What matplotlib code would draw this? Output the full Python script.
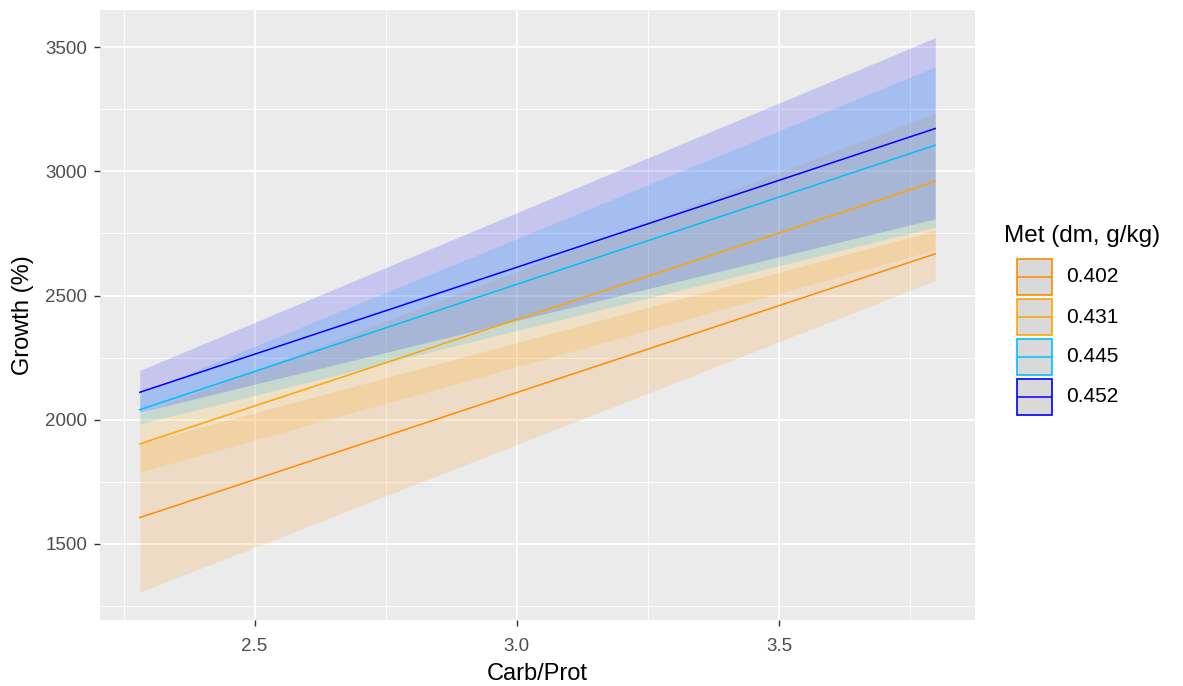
import numpy as np
import matplotlib.pyplot as plt
from matplotlib.patches import Rectangle
from matplotlib.lines import Line2D

plt.rcParams['font.family'] = ['Liberation Sans', 'DejaVu Sans']

# Carb/Prot range covered by the predictions
cp = [2.281, 3.798]

met_levels = ['0.402', '0.431', '0.445', '0.452']
line_colors = ['#FF8C00', '#FFA500', '#00BFFF', '#0000FF']

# predicted growth and confidence limits at each end of the range
fit = {
    '0.402': [1605, 2668],
    '0.431': [1902, 2960],
    '0.445': [2040, 3106],
    '0.452': [2110, 3173],
}
lower = {
    '0.402': [1304, 2560],
    '0.431': [1788, 2685],
    '0.445': [1983, 2776],
    '0.452': [2030, 2809],
}
upper = {
    '0.402': [1903, 2762],
    '0.431': [2022, 3235],
    '0.445': [2105, 3422],
    '0.452': [2198, 3539],
}

fig = plt.figure(figsize=(11.83, 6.86), dpi=100)
ax = fig.add_axes([100 / 1183, 1 - 620 / 686, 875 / 1183, 610 / 686])
ax.set_facecolor('#EBEBEB')

for lev, col in zip(met_levels, line_colors):
    ax.fill_between(cp, lower[lev], upper[lev], color=col, alpha=0.16,
                    linewidth=0, zorder=2)
for lev, col in zip(met_levels, line_colors):
    ax.plot(cp, fit[lev], color=col, lw=1.1, zorder=3)

# ggplot-like expansion of the data range
span = cp[1] - cp[0]
ax.set_xlim(cp[0] - 0.05 * span, cp[1] + 0.05 * span)
ymin = min(min(v) for v in lower.values())
ymax = max(max(v) for v in upper.values())
ax.set_ylim(ymin - 0.05 * (ymax - ymin), ymax + 0.05 * (ymax - ymin))

ax.set_xticks([2.5, 3.0, 3.5])
ax.set_xticklabels(['2.5', '3.0', '3.5'])
ax.set_yticks([1500, 2000, 2500, 3000, 3500])
ax.set_xticks([2.25, 2.75, 3.25, 3.75], minor=True)
ax.set_yticks([1250, 1750, 2250, 2750, 3250], minor=True)
ax.grid(which='major', color='white', lw=1.3, zorder=1)
ax.grid(which='minor', color='white', lw=0.6, zorder=1)
ax.set_axisbelow(True)
for s in ax.spines.values():
    s.set_visible(False)
ax.tick_params(which='major', length=4, width=1, color='#333333',
               labelcolor='#4D4D4D', labelsize=13.5, pad=5)
ax.tick_params(axis='x', which='major', pad=9)
ax.tick_params(which='minor', length=0)

ax.set_xlabel('Carb/Prot', fontsize=17, color='black', labelpad=6)
ax.set_ylabel('Growth (%)', fontsize=17, color='black', labelpad=8)

# legend drawn by hand in figure pixels
W, H = 1183, 686
fig.text(1004 / W, 1 - 236 / H, 'Met (dm, g/kg)', fontsize=17.5,
         va='center', ha='left')
for i, (lev, col) in enumerate(zip(met_levels, line_colors)):
    yc = 277 + 40 * i
    fig.patches.append(Rectangle((1017 / W, 1 - (yc + 18) / H), 35 / W, 36 / H,
                                 transform=fig.transFigure, facecolor='#D9D9D9',
                                 edgecolor=col, lw=1.2))
    fig.lines.append(Line2D([1018 / W, 1051 / W], [1 - yc / H, 1 - yc / H],
                            transform=fig.transFigure, color=col, lw=1.1))
    fig.text(1066 / W, 1 - yc / H, lev, fontsize=15, va='center', ha='left')

fig.savefig('out.png', dpi=100)
